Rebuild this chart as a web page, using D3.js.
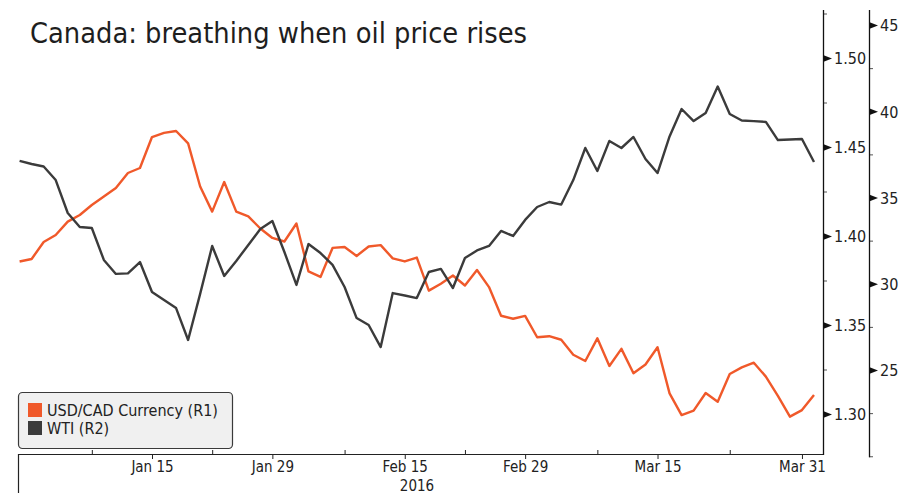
<!DOCTYPE html>
<html>
<head>
<meta charset="utf-8">
<script src="https://cdn.jsdelivr.net/npm/d3@7/dist/d3.min.js"></script>
<style>
  html, body { margin: 0; padding: 0; background: #ffffff; }
  svg { display: block; }
  text { font-family: "DejaVu Sans Condensed", "DejaVu Sans", sans-serif; font-stretch: condensed; fill: #222; }
</style>
</head>
<body>
<script>
// Weekday sessions, 31 Dec 2015 to 1 Apr 2016
const sessions = d3.timeDay.range(new Date(2015, 11, 31), new Date(2016, 3, 2))
  .filter(d => d.getDay() !== 0 && d.getDay() !== 6);
const fmtKey = d3.timeFormat("%Y-%m-%d");
const sessionKeys = sessions.map(fmtKey);

// USD/CAD spot (right axis 1)
const usdcad = [1.3857, 1.3871, 1.3966, 1.4006, 1.4081, 1.4118, 1.4174, 1.4222, 1.4270, 1.4354,
  1.4382, 1.4556, 1.4579, 1.4590, 1.4520, 1.4278, 1.4137, 1.4303, 1.4137, 1.4110,
  1.4042, 1.3989, 1.3969, 1.4070, 1.3801, 1.3770, 1.3933, 1.3938, 1.3888, 1.3941,
  1.3949, 1.3874, 1.3857, 1.3879, 1.3693, 1.3732, 1.3778, 1.3722, 1.3809, 1.3713,
  1.3552, 1.3535, 1.3551, 1.3431, 1.3437, 1.3417, 1.3333, 1.3298, 1.3425, 1.3270,
  1.3366, 1.3229, 1.3278, 1.3375, 1.3116, 1.2994, 1.3019, 1.3118, 1.3069, 1.3225,
  1.3262, 1.3288, 1.3210, 1.3102, 1.2985, 1.3022, 1.3107];

// WTI crude, USD per barrel (right axis 2)
const wti = [37.12, 36.94, 36.80, 36.01, 34.10, 33.29, 33.23, 31.38, 30.57, 30.60,
  31.26, 29.52, 29.06, 28.59, 26.74, 29.41, 32.19, 30.45, 31.32, 32.25,
  33.17, 33.64, 31.84, 29.93, 32.30, 31.78, 31.09, 29.81, 28.01, 27.61,
  26.33, 29.46, 29.32, 29.17, 30.68, 30.86, 29.75, 31.49, 31.93, 32.19,
  33.06, 32.77, 33.70, 34.45, 34.74, 34.59, 36.01, 37.87, 36.54, 38.28,
  37.87, 38.51, 37.23, 36.42, 38.54, 40.13, 39.43, 39.90, 41.43, 39.84,
  39.46, 39.43, 39.38, 38.33, 38.36, 38.39, 37.06];

const majorTickDates = ["2016-01-15", "2016-01-29", "2016-02-15", "2016-02-29", "2016-03-15", "2016-03-31"];
const majorTickLabels = ["Jan 15", "Jan 29", "Feb 15", "Feb 29", "Mar 15", "Mar 31"];
const minorTickDates = ["2016-01-08", "2016-01-22", "2016-02-08", "2016-02-22", "2016-03-08", "2016-03-23"];
const yearLabel = "2016";

const r1Ticks = [1.30, 1.35, 1.40, 1.45, 1.50];
const r1Minor = [1.325, 1.375, 1.425, 1.475, 1.525];
const r2Ticks = [25, 30, 35, 40, 45];
const r2Minor = [20, 22.5, 27.5, 32.5, 37.5, 42.5];

const seriesNames = ["USD/CAD Currency (R1)", "WTI (R2)"];
const titleText = "Canada: breathing when oil price rises";

const ORANGE = "#f0592a";
const DARK = "#3b3b3b";

const W = 912, H = 496;
const plotLeft = 18, plotRight = 823, plotTop = 10, plotBottom = 454;
const r2AxisX = 869;

const svg = d3.select("body").append("svg").attr("width", W).attr("height", H);

const x = d3.scalePoint().domain(sessionKeys).range([19.6, 814]);
const y1 = d3.scaleLinear().domain([1.30, 1.50]).range([414, 58]);
const y2 = d3.scaleLinear().domain([25, 45]).range([370, 25]);

// Title
svg.append("text")
  .attr("x", 30).attr("y", 43)
  .style("font-size", "28.7px")
  .style("fill", "#1e1e1e")
  .text(titleText);

// Series lines
const lineCad = d3.line().x((d, i) => x(sessionKeys[i])).y(d => y1(d));
const lineWti = d3.line().x((d, i) => x(sessionKeys[i])).y(d => y2(d));

svg.append("path").datum(usdcad)
  .attr("d", lineCad).attr("fill", "none")
  .attr("stroke", ORANGE).attr("stroke-width", 2.4).attr("stroke-linejoin", "round");
svg.append("path").datum(wti)
  .attr("d", lineWti).attr("fill", "none")
  .attr("stroke", DARK).attr("stroke-width", 2.4).attr("stroke-linejoin", "round");

// Bottom axis
const xAxis = svg.append("g").attr("transform", `translate(0,${plotBottom})`)
  .call(d3.axisBottom(x).tickValues(majorTickDates).tickSize(5).tickPadding(2)
    .tickFormat(d => majorTickLabels[majorTickDates.indexOf(d)]));
xAxis.select(".domain").remove();
xAxis.selectAll("line").attr("stroke", "#222");
xAxis.selectAll("text").style("font-size", "15px").style("font-family", null).attr("fill", null);

const xMinor = svg.append("g").attr("transform", `translate(0,${plotBottom})`)
  .call(d3.axisTop(x).tickValues(minorTickDates).tickSize(4).tickFormat(""));
xMinor.select(".domain").remove();
xMinor.selectAll("line").attr("stroke", "#222");

svg.append("line")
  .attr("x1", plotLeft).attr("x2", plotRight)
  .attr("y1", plotBottom + 0.5).attr("y2", plotBottom + 0.5)
  .attr("stroke", "#222").attr("stroke-width", 1.2);
svg.append("line")
  .attr("x1", plotLeft + 0.5).attr("x2", plotLeft + 0.5)
  .attr("y1", plotBottom).attr("y2", 493)
  .attr("stroke", "#222").attr("stroke-width", 1.2);

svg.append("text")
  .attr("x", 417).attr("y", 491)
  .attr("text-anchor", "middle")
  .style("font-size", "15px")
  .text(yearLabel);

// Right axes
function rightAxis(ax, scale, ticks, minor, fmt, yEnd) {
  const g = svg.append("g").attr("transform", `translate(${ax},0)`);
  g.call(d3.axisRight(scale).tickValues(ticks).tickSize(0).tickPadding(11).tickFormat(fmt));
  g.select(".domain").remove();
  g.selectAll(".tick text").style("font-size", "16px").style("font-family", null).attr("fill", null)
    .attr("dy", "0.36em");
  g.selectAll(".tick").append("path")
    .attr("d", "M0,-3.5L9,0L0,3.5Z")
    .attr("fill", "#111");
  const gm = svg.append("g").attr("transform", `translate(${ax},0)`);
  gm.call(d3.axisRight(scale).tickValues(minor).tickSize(4).tickFormat(""));
  gm.select(".domain").remove();
  gm.selectAll("line").attr("stroke", "#555");
  svg.append("line")
    .attr("x1", ax + 0.5).attr("x2", ax + 0.5)
    .attr("y1", plotTop).attr("y2", yEnd)
    .attr("stroke", "#111").attr("stroke-width", 1.3);
}
rightAxis(plotRight, y1, r1Ticks, r1Minor, d3.format(".2f"), plotBottom + 1);
rightAxis(r2AxisX, y2, r2Ticks, r2Minor, d3.format("d"), y2(20) + 1);

// Legend
const legend = svg.append("g");
legend.append("rect")
  .attr("x", 18.5).attr("y", 392.5).attr("width", 214).attr("height", 56).attr("rx", 4)
  .attr("fill", "#f0f0f0").attr("stroke", "#3a3a3a").attr("stroke-width", 1.2);
const legendColors = [ORANGE, DARK];
seriesNames.forEach((name, i) => {
  legend.append("rect")
    .attr("x", 28).attr("y", 403 + i * 18).attr("width", 14).attr("height", 14)
    .attr("fill", legendColors[i]);
  legend.append("text")
    .attr("x", 47).attr("y", 416 + i * 18)
    .style("font-size", "16px")
    .text(name);
});
</script>
</body>
</html>
